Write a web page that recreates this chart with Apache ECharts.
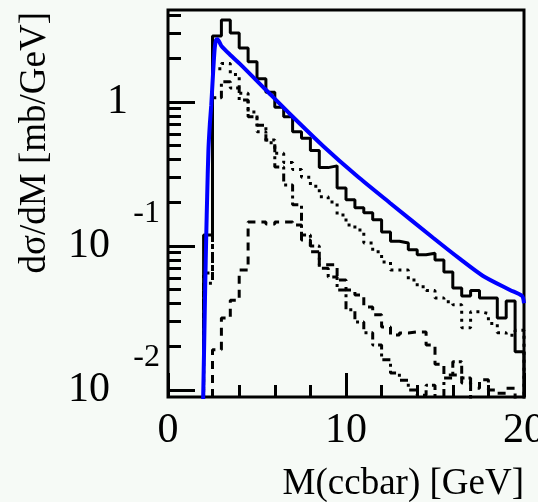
<!DOCTYPE html>
<html>
<head>
<meta charset="utf-8">
<script src="https://cdn.jsdelivr.net/npm/echarts@6/dist/echarts.min.js"></script>
<style>
  html, body { margin: 0; padding: 0; background: #f6faf6; }
  #chart { width: 538px; height: 502px; }
</style>
</head>
<body>
<div id="chart"></div>
<script>
// Lower edges of the 0.5 GeV mass bins [GeV]
const binStart = [2.0, 2.5, 3.0, 3.5, 4.0, 4.5, 5.0, 5.5, 6.0, 6.5, 7.0, 7.5,
                  8.0, 8.5, 9.0, 9.5, 10.0, 10.5, 11.0, 11.5, 12.0, 12.5, 13.0, 13.5,
                  14.0, 14.5, 15.0, 15.5, 16.0, 16.5, 17.0, 17.5, 18.0, 18.5, 19.0, 19.5];
const binEnd = 20.0;

// dsigma/dM per bin [mb/GeV]; 0 = empty bin
const totalXsec = [0.119, 2.87, 3.71, 3.01, 2.37, 1.90, 1.45, 1.17, 0.92, 0.79, 0.62, 0.56,
                   0.46, 0.35, 0.36, 0.253, 0.209, 0.184, 0.170, 0.152, 0.125, 0.108, 0.105, 0.094,
                   0.087, 0.089, 0.080, 0.066, 0.051, 0.045, 0.049, 0.0435, 0.0435, 0.0316, 0.0415, 0.0184];
const dottedXsec = [0.065, 1.70, 1.85, 1.55, 1.15, 0.85, 0.62, 0.52, 0.44, 0.38, 0.34, 0.30,
                    0.26, 0.22, 0.202, 0.164, 0.140, 0.129, 0.105, 0.091, 0.0775, 0.068, 0.068, 0.058,
                    0.052, 0.049, 0.0435, 0.041, 0.039, 0.027, 0.035, 0.034, 0.029, 0.025, 0.024, 0.026];
const dashDotXsec = [0.055, 1.07, 1.38, 1.25, 1.03, 0.79, 0.69, 0.545, 0.354, 0.265, 0.193, 0.119,
                     0.100, 0.070, 0.061, 0.0495, 0.036, 0.0296, 0.025, 0.0205, 0.0162, 0.0131, 0.0117, 0.0100,
                     0.0092, 0.0108, 0, 0.0121, 0.0157, 0.0121, 0, 0, 0, 0, 0, 0];
const dashedXsec = [0, 0.019, 0.0316, 0.042, 0.068, 0.147, 0.147, 0.142, 0.147, 0.147, 0.140, 0.110,
                    0.091, 0.074, 0.074, 0.058, 0.0495, 0.0457, 0.0377, 0.0333, 0.0274, 0.0241, 0.0249, 0.0253,
                    0.0253, 0.0205, 0.0151, 0.0127, 0.0127, 0.0112, 0.0103, 0.0118, 0.0100, 0.0095, 0.0103, 0];

// Smooth prediction curve
const curveMass = [1.95, 1.98, 2.03, 2.09, 2.15, 2.2, 2.27, 2.35, 2.43, 2.5, 2.57, 2.63, 2.7, 2.78,
                   3.0, 3.5, 4.04, 5.45, 6.85, 8.71, 10.62, 12.47, 14.89, 16.4, 17.7, 19.21, 19.89, 20.0];
const curveXsec = [0.006, 0.0095, 0.02, 0.052, 0.12, 0.22, 0.46, 0.7, 0.95, 1.35, 1.9, 2.4, 2.7, 2.72,
                   2.45, 2.12, 1.84, 1.23, 0.825, 0.495, 0.306, 0.199, 0.114, 0.0813, 0.0619, 0.0495, 0.045, 0.040];

// Axis ticks
const yMajorTicks = [0.01, 0.1, 1];
const yMinorTicks = [0.02, 0.03, 0.04, 0.05, 0.06, 0.07, 0.08, 0.09,
                     0.2, 0.3, 0.4, 0.5, 0.6, 0.7, 0.8, 0.9, 2, 3, 4];
const yTickExponent = ['-2', '-1', ''];

// Empty bins sit far below the visible range of the log axis
const FLOOR = 1e-5;

function histPoints(vals) {
  const pts = [[binStart[0], FLOOR]];
  for (let i = 0; i < vals.length; i++) {
    pts.push([binStart[i], vals[i] > 0 ? vals[i] : FLOOR]);
  }
  const last = vals[vals.length - 1];
  pts.push([binEnd, last > 0 ? last : FLOOR]);
  pts.push([binEnd, FLOOR]);
  return pts;
}

const FONT = 'Liberation Serif, DejaVu Serif, serif';
const yMin = 0.00894, yMax = 4.35;

function histSeries(name, vals, dash) {
  return {
    name: name, type: 'line', step: 'end', symbol: 'none', clip: true,
    data: histPoints(vals),
    lineStyle: { color: '#000', width: 3, type: dash, cap: 'butt' },
    emphasis: { disabled: true }, silent: true, animation: false
  };
}

const chart = echarts.init(document.getElementById('chart'), null, { renderer: 'canvas' });
chart.setOption({
  backgroundColor: '#f6faf6',
  animation: false,
  grid: {
    left: 168, top: 10, width: 356, height: 387,
    show: true, borderColor: '#000', borderWidth: 3, backgroundColor: 'transparent',
    containLabel: false, outerBoundsMode: 'none'
  },
  xAxis: {
    type: 'value', min: 0, max: 20, interval: 10,
    axisLine: { show: false },
    axisTick: { show: true, inside: true, length: 24, lineStyle: { color: '#000', width: 3 } },
    minorTick: { show: true, splitNumber: 5, length: 12, lineStyle: { color: '#000', width: 3 } },
    splitLine: { show: false },
    axisLabel: { color: '#000', fontFamily: FONT, fontSize: 42, margin: 13 },
    name: 'M(ccbar) [GeV]', nameLocation: 'end', nameGap: 0, nameMoveOverlap: false,
    nameTextStyle: { color: '#000', fontFamily: FONT, fontSize: 37,
                     align: 'right', verticalAlign: 'top', padding: [69, 0, 0, 0] }
  },
  yAxis: [
    {
      type: 'log', logBase: 10, min: yMin, max: yMax,
      axisLine: { show: false },
      axisTick: { show: true, inside: true, length: 27, customValues: yMajorTicks,
                  lineStyle: { color: '#000', width: 3 } },
      splitLine: { show: false },
      axisLabel: {
        customValues: yMajorTicks, margin: 8, color: '#000', fontFamily: FONT,
        formatter: function (v) {
          const i = yMajorTicks.findIndex(t => Math.abs(t - v) / t < 1e-6);
          if (i < 0) return '';
          if (yTickExponent[i] === '') return '{one|1}';
          return '{e|' + yTickExponent[i] + '}\n{b|10}\n{s| }';
        },
        rich: {
          one: { fontFamily: FONT, fontSize: 42, color: '#000', padding: [0, 32, 0, 0] },
          b: { fontFamily: FONT, fontSize: 42, lineHeight: 38, color: '#000', padding: [0, 50, 0, 0] },
          e: { fontFamily: FONT, fontSize: 32, lineHeight: 26, color: '#000' },
          s: { fontFamily: FONT, fontSize: 10, lineHeight: 26 }
        }
      },
      name: 'd\u03c3/dM [mb/GeV]', nameLocation: 'end', nameGap: -2, nameRotate: 90,
      nameMoveOverlap: false,
      nameTextStyle: { color: '#000', fontFamily: FONT, fontSize: 37,
                       align: 'right', verticalAlign: 'bottom', padding: [0, 0, 114, 0] }
    },
    {
      type: 'log', logBase: 10, min: yMin, max: yMax, position: 'left',
      axisLine: { show: false },
      axisTick: { show: true, inside: true, length: 13, customValues: yMinorTicks,
                  lineStyle: { color: '#000', width: 3 } },
      axisLabel: { show: false },
      splitLine: { show: false }
    }
  ],
  series: [
    histSeries('dashed', dashedXsec, [8, 6]),
    histSeries('dashdot', dashDotXsec, [8, 4, 3, 4]),
    histSeries('dotted', dottedXsec, [3, 5]),
    histSeries('total', totalXsec, 'solid'),
    {
      name: 'curve', type: 'line', symbol: 'none', clip: true, smooth: 0.25,
      data: curveMass.map((m, i) => [m, curveXsec[i]]),
      lineStyle: { color: '#0000ff', width: 4 },
      emphasis: { disabled: true }, silent: true, animation: false
    }
  ]
});
</script>
</body>
</html>
